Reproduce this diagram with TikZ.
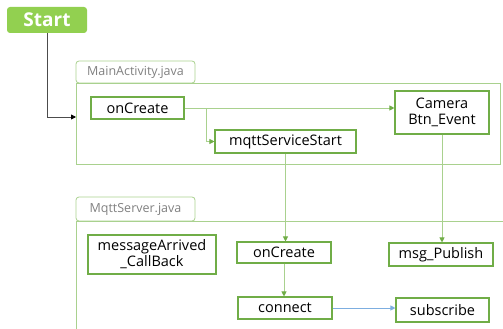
\documentclass[tikz,border=0pt]{standalone}
\usepackage{fontspec}
\setmainfont{Open Sans}
\usetikzlibrary{arrows.meta}
\definecolor{boxgreen}{HTML}{70AD47}
\definecolor{framegreen}{HTML}{A9D18E}
\definecolor{startgreen}{HTML}{92D050}
\definecolor{tabgray}{HTML}{808080}
\definecolor{linkblue}{HTML}{7DAEE0}
\tikzset{
  fn/.style={draw=boxgreen, line width=1.1pt, fill=white, inner sep=0pt,
             align=center, font=\fontsize{14.5}{16}\selectfont, text=black},
  tab/.style={draw=framegreen, line width=0.8pt, rounded corners=3pt, inner sep=0pt,
              font=\fontsize{12.5}{14}\selectfont, text=tabgray},
  frameline/.style={draw=framegreen, line width=0.8pt},
  flow/.style={draw=framegreen, line width=0.9pt,
               -{Triangle[length=5pt,width=5pt,color=boxgreen]}},
  bluelink/.style={draw=linkblue, line width=0.9pt,
               -{Triangle[length=5pt,width=5pt,color=linkblue]}},
  startlink/.style={draw=black!70, line width=0.8pt,
               -{Triangle[length=5pt,width=5pt,color=black]}}
}
\begin{document}
\begin{tikzpicture}[x=1pt,y=-1pt]
\useasboundingbox (0,0) rectangle (503,329);

% start badge
\node[fill=startgreen, rounded corners=3pt, minimum width=80pt, minimum height=26pt,
      inner sep=0pt, text=white, font=\fontsize{19}{21}\selectfont\bfseries]
      (start) at (47,20) {Start};

% MainActivity.java frame
\node[tab, minimum width=119pt, minimum height=22pt] (maintab) at (135.5,72) {MainActivity.java};
\node[frameline, minimum width=424pt, minimum height=81pt, inner sep=0pt] (mainframe) at (288,123.5) {};

% MqttServer.java frame (runs off the right and bottom edges)
\node[tab, minimum width=119pt, minimum height=24pt] (mqtttab) at (135.5,209) {MqttServer.java};
\coordinate (mqttbl) at (76,329);
\coordinate (mqtttl) at (76,221);
\coordinate (mqtttr) at (503,221);
\draw[frameline] (mqttbl) -- (mqtttl) -- (mqtttr);

% MainActivity functions
\node[fn, minimum width=93pt, minimum height=22pt] (oncreateA) at (137.5,108) {onCreate};
\node[fn, minimum width=94pt, minimum height=43pt] (camera) at (442,112.5) {Camera\\Btn\_Event};
\node[fn, minimum width=141pt, minimum height=23pt] (mqttstart) at (285.5,141.5) {mqttServiceStart};

% MqttServer functions
\node[fn, minimum width=128pt, minimum height=39pt] (arrived) at (152,254.5) {messageArrived\\\_CallBack};
\node[fn, minimum width=94pt, minimum height=21pt] (oncreateB) at (284,252.5) {onCreate};
\node[fn, minimum width=104pt, minimum height=23pt] (publish) at (441,254.5) {msg\_Publish};
\node[fn, minimum width=94pt, minimum height=22pt] (connect) at (285,308) {connect};
\node[fn, minimum width=93pt, minimum height=24pt] (subscribe) at (442.5,310) {subscribe};

% connectors
\coordinate (entry) at (76,117);
\draw[startlink] (start.south) |- (entry);
\draw[flow] (oncreateA.east) -- (oncreateA.east -| camera.west);
\coordinate (branch) at (206,108);
\draw[flow] (branch) |- (mqttstart.west);
\draw[flow] (mqttstart.south) -- (mqttstart.south |- oncreateB.north);
\draw[flow] (camera.south) -- (camera.south |- publish.north);
\draw[flow] (oncreateB.south) -- (oncreateB.south |- connect.north);
\draw[bluelink] (connect.east) -- (connect.east -| subscribe.west);
\end{tikzpicture}
\end{document}
